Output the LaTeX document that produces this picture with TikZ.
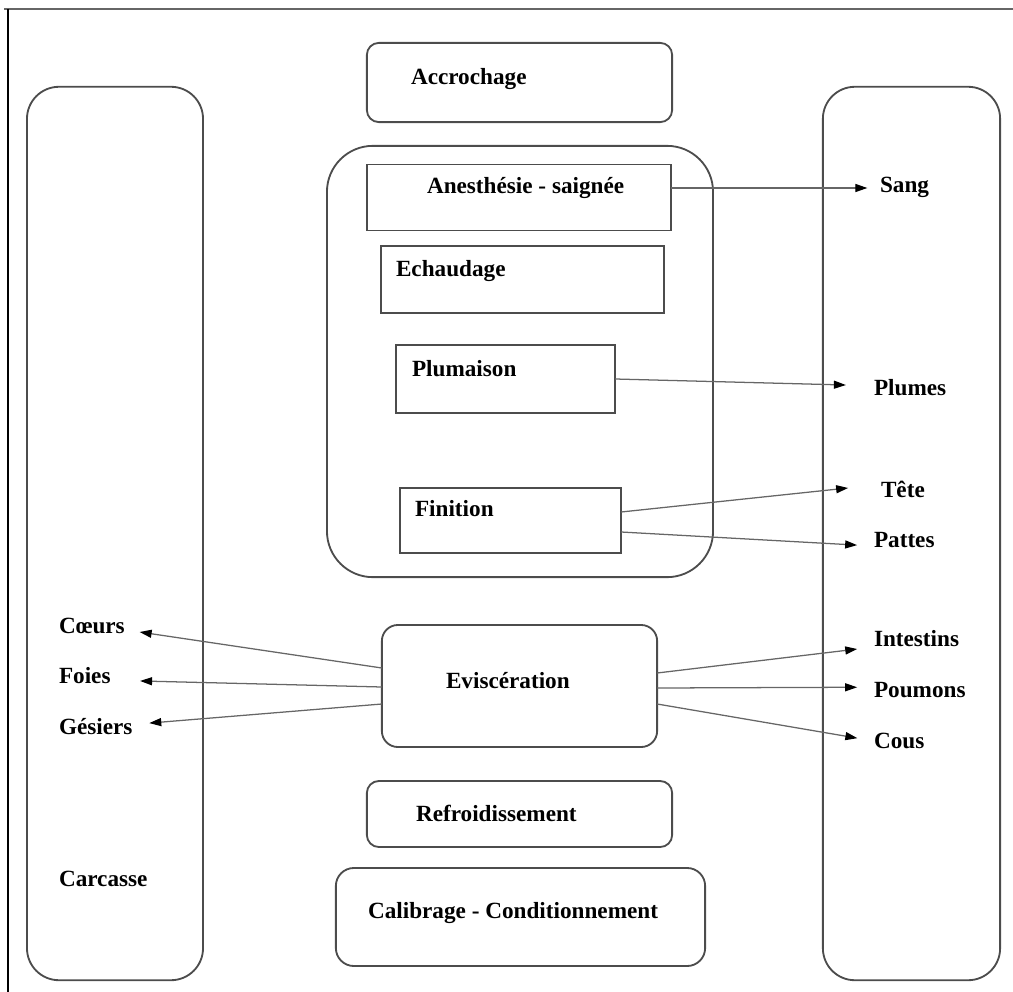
\documentclass[tikz,border=0pt]{standalone}
\usepackage{fontspec}
\setmainfont{Liberation Serif}
\usetikzlibrary{arrows.meta,shapes,positioning}
\begin{document}
\begin{tikzpicture}[x=0.025cm,y=-0.025cm,
	box/.style 2 args={draw=black!70,line width=1.3pt,minimum width=#1,minimum height=#2,
		inner sep=0pt,outer sep=0pt},
	txt/.style={font=\bfseries\fontsize{16.5}{19}\selectfont,inner sep=0pt,outer sep=0pt,anchor=west},
	flux/.style={draw=black!60,line width=0.9pt,-{Triangle[length=3mm,width=2mm,black]}}]
	\useasboundingbox (0,0) rectangle (1013,992);
	% cadre
	\draw[black!60,line width=1.6pt] (4,9) -- (1013,9);
	\draw[line width=0.8pt] (8,9) -- (8,992);
	% colonnes
	\node[box={4.4cm}{22.33cm},rounded corners=0.8cm] (gauche) at (115,533.5) {};
	\node[box={4.43cm}{22.33cm},rounded corners=0.8cm] (droite) at (911.5,533.5) {};
	% etapes
	\node[box={7.63cm}{1.98cm},rounded corners=0.3cm] (accro) at (519.5,82.5) {};
	\node[box={9.65cm}{10.78cm},rounded corners=1.15cm] (bloc) at (520,361.5) {};
	\node[box={7.6cm}{1.65cm}] (anes) at (519,197.5) {};
	\node[box={7.08cm}{1.68cm}] (echau) at (522.5,279.5) {};
	\node[box={5.48cm}{1.68cm}] (pluma) at (505.5,379) {};
	\node[box={5.53cm}{1.63cm}] (fini) at (510.5,520.5) {};
	\node[box={6.88cm}{3.05cm},rounded corners=0.4cm] (evisc) at (519.5,686) {};
	\node[box={7.63cm}{1.65cm},rounded corners=0.3cm] (refroid) at (519.5,814) {};
	\node[box={9.23cm}{2.45cm},rounded corners=0.45cm] (calib) at (520.5,917) {};
	\node[txt] (t-accro) at (411,79) {Accrochage};
	\node[txt] (t-anes) at (427,188) {Anesthésie - saignée};
	\node[txt] (t-echau) at (396,271) {Echaudage};
	\node[txt] (t-pluma) at (412,369) {Plumaison};
	\node[txt] (t-fini) at (415,509) {Finition};
	\node[txt] (t-evisc) at (446,681) {Eviscération};
	\node[txt] (t-refroid) at (416,813) {Refroidissement};
	\node[txt] (t-calib) at (368,913) {Calibrage - Conditionnement};
	% sous-produits
	\node[txt] (sang) at (880,187) {Sang};
	\node[txt] (plumes) at (874,388) {Plumes};
	\node[txt] (tete) at (881,489) {Tête};
	\node[txt] (pattes) at (874,540) {Pattes};
	\node[txt] (intestins) at (874,639) {Intestins};
	\node[txt] (poumons) at (874,690) {Poumons};
	\node[txt] (cous) at (874,741) {Cous};
	\node[txt] (coeurs) at (59,626) {Cœurs};
	\node[txt] (foies) at (59,676) {Foies};
	\node[txt] (gesiers) at (59,727) {Gésiers};
	\node[txt] (carcasse) at (59,879) {Carcasse};
	% fleches
	\draw[flux,shorten >=9pt] (anes.east |- 0,188) -- (sang.west |- 0,188);
	\draw[flux,shorten >=20pt] (pluma.east |- 0,379) -- ([yshift=1.6pt]plumes.west);
	\draw[flux,shorten >=23.5pt] (fini.east |- 0,512) -- ([yshift=3.2pt]tete.west);
	\draw[flux,shorten >=12pt] (fini.east |- 0,532) -- ([yshift=-4.3pt]pattes.west);
	\draw[flux,shorten >=12pt] (evisc.east |- 0,673) -- ([yshift=-5.7pt]intestins.west);
	\draw[flux,shorten >=12pt] (evisc.east |- 0,688) -- ([yshift=2pt]poumons.west);
	\draw[flux,shorten >=12pt] (evisc.east |- 0,704) -- (cous.west);
	\draw[flux,shorten >=10.7pt] (evisc.west |- 0,668) -- ([yshift=-2.7pt]coeurs.east);
	\draw[flux,shorten >=21pt] (evisc.west |- 0,687) -- ([yshift=-3pt]foies.east);
	\draw[flux,shorten >=12pt] (evisc.west |- 0,704) -- ([yshift=1.8pt]gesiers.east);
\end{tikzpicture}
\end{document}
